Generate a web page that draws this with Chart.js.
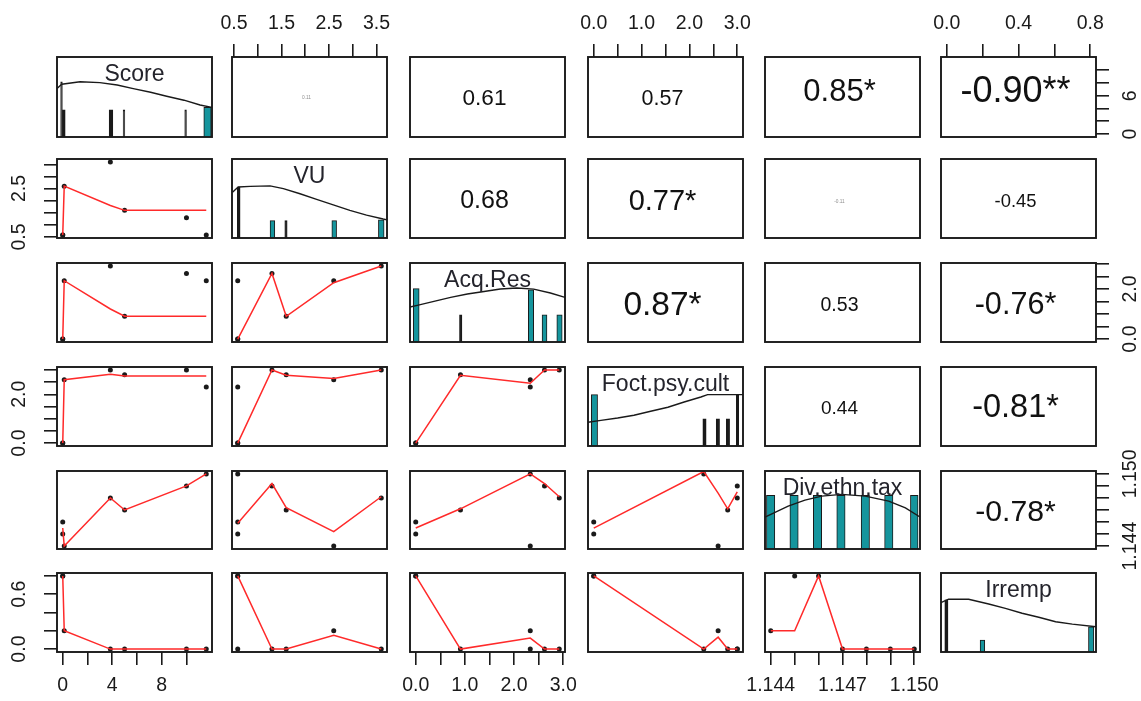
<!DOCTYPE html>
<html>
<head>
<meta charset="utf-8">
<script src="https://cdn.jsdelivr.net/npm/chart.js@4.4.1/dist/chart.umd.min.js"></script>
<style>
  html, body { margin: 0; padding: 0; background: #fff; }
  #board { position: relative; width: 1141px; height: 701px; overflow: hidden; background: #fff; }
  #board canvas { position: absolute; }
</style>
</head>
<body>
<div id="board"></div>
<script>
// ---------- observations (one entry per case, same order in every array) ----------
const varNames    = ['Score', 'VU', 'Acq.Res', 'Foct.psy.cult', 'Div.ethn.tax', 'Irremp'];
const score       = [0, 0, 0.12, 3.85, 5, 10, 11.6];
const vu          = [0.58, 0.58, 2.6, 3.6, 1.6, 1.3, 0.58];
const acqRes      = [0, 0, 2.33, 2.92, 0.91, 2.62, 2.33];
const foctPsyCult = [0, 0, 2.6, 3.0, 2.8, 3.0, 2.3];
const divEthnTax  = [1.146, 1.145, 1.144, 1.148, 1.147, 1.149, 1.150];
const irremp      = [0.8, 0.8, 0.2, 0, 0, 0, 0];

// ---------- smoother fitted values (y on x), per case ----------
const fitVuOnScore      = [0.58, 0.58, 2.6, 1.8, 1.6, 1.6, 1.6];
const fitAcqOnScore     = [0, 0, 2.33, 1.2, 0.91, 0.91, 0.91];
const fitFoctOnScore    = [0, 0, 2.6, 2.82, 2.75, 2.75, 2.75];
const fitDivOnScore     = [1.1455, 1.1455, 1.144, 1.148, 1.147, 1.149, 1.150];
const fitIrrOnScore     = [0.8, 0.8, 0.2, 0, 0, 0, 0];
const fitAcqOnVu        = [0, 0, 2.25, 2.92, 0.91, 2.62, 0];
const fitFoctOnVu       = [0, 0, 2.65, 3.0, 2.78, 3.0, 0];
const fitDivOnVu        = [1.1459, 1.1459, 1.1452, 1.1481, 1.1472, 1.1492, 1.1459];
const fitIrrOnVu        = [0.8, 0.8, 0.15, 0, 0, 0, 0.8];
const fitFoctOnAcq      = [0, 0, 2.45, 3.0, 2.78, 3.0, 2.45];
const fitDivOnAcq       = [1.1455, 1.1455, 1.150, 1.1481, 1.1471, 1.1492, 1.150];
const fitIrrOnAcq       = [0.8, 0.8, 0.12, 0, 0, 0, 0.12];
const fitDivOnFoct      = [1.1455, 1.1455, 1.1484, 1.1485, 1.1471, 1.1485, 1.1502];
const fitIrrOnFoct      = [0.8, 0.8, 0.13, 0, 0, 0, 0];
const fitIrrOnDiv       = [0.8, 0.2, 0.2, 0, 0, 0, 0];

// ---------- histogram bins (lower edge, upper edge, height as share of panel) ----------
const scoreBinLo = [-0.17, -0.03, 3.75, 4.88, 9.86, 11.4];
const scoreBinHi = [-0.03, 0.2, 4.05, 5.02, 10.0, 12.0];
const scoreBinH  = [0.69, 0.34, 0.34, 0.34, 0.34, 0.37];
const vuBinLo = [0.57, 1.26, 1.57, 2.56, 3.54];
const vuBinHi = [0.63, 1.36, 1.62, 2.66, 3.66];
const vuBinH  = [0.645, 0.22, 0.22, 0.22, 0.23];
const acqBinLo = [-0.05, 0.89, 2.29, 2.57, 2.87];
const acqBinHi = [0.07, 0.94, 2.40, 2.67, 2.98];
const acqBinH  = [0.675, 0.345, 0.66, 0.345, 0.345];
const foctBinLo = [-0.05, 2.28, 2.56, 2.77, 2.98];
const foctBinHi = [0.08, 2.35, 2.63, 2.84, 3.03];
const foctBinH  = [0.65, 0.345, 0.345, 0.345, 0.64];
const divBinLo = [1.14382, 1.1448, 1.14578, 1.14676, 1.14778, 1.14876, 1.14984];
const divBinHi = [1.14417, 1.14515, 1.14613, 1.14711, 1.14813, 1.14911, 1.15016];
const divBinH  = [0.687, 0.687, 0.687, 0.687, 0.687, 0.687, 0.687];
const irrBinLo = [-0.011, 0.186, 0.79];
const irrBinHi = [0.007, 0.212, 0.82];
const irrBinH  = [0.66, 0.15, 0.32];

// ---------- density curves (x, height as share of panel) ----------
const scoreDensX = [-0.46, -0.08, 1.4, 3.0, 4.4, 5.7, 7.1, 8.4, 9.8, 11.1, 12.06];
const scoreDensY = [0.605, 0.66, 0.69, 0.68, 0.65, 0.605, 0.56, 0.51, 0.46, 0.40, 0.37];
const vuDensX = [0.47, 0.59, 0.84, 1.26, 1.54, 1.89, 2.24, 2.59, 2.94, 3.29, 3.64, 3.72];
const vuDensY = [0.58, 0.645, 0.654, 0.66, 0.625, 0.56, 0.49, 0.42, 0.35, 0.29, 0.24, 0.23];
const acqDensX = [-0.117, 0.03, 0.37, 0.71, 1.05, 1.39, 1.72, 2.06, 2.4, 2.74, 3.037];
const acqDensY = [0.443, 0.463, 0.514, 0.565, 0.608, 0.64, 0.67, 0.684, 0.67, 0.62, 0.565];
const foctDensX = [-0.12, 0.15, 0.5, 0.84, 1.19, 1.55, 1.89, 2.24, 2.38, 2.94, 3.12];
const foctDensY = [0.30, 0.325, 0.354, 0.39, 0.44, 0.49, 0.557, 0.62, 0.65, 0.65, 0.65];
const divDensX = [1.14376, 1.14473, 1.14543, 1.14613, 1.14697, 1.14795, 1.14893, 1.14963, 1.15024];
const divDensY = [0.41, 0.55, 0.626, 0.678, 0.70, 0.678, 0.613, 0.528, 0.41];
const irrDensX = [-0.032, 0.01, 0.122, 0.234, 0.327, 0.42, 0.513, 0.607, 0.7, 0.832];
const irrDensY = [0.625, 0.668, 0.668, 0.608, 0.553, 0.49, 0.44, 0.383, 0.353, 0.32];

// ---------- correlations shown in the upper panels ----------
const corrPairs = [[0,1],[0,2],[0,3],[0,4],[0,5],[1,2],[1,3],[1,4],[1,5],[2,3],[2,4],[2,5],[3,4],[3,5],[4,5]];
const corrR     = [0.11, 0.61, 0.57, 0.85, -0.90, 0.68, 0.77, -0.11, -0.45, 0.87, 0.53, -0.76, 0.44, -0.81, -0.78];
const corrStars = ['', '', '', '*', '**', '', '*', '', '', '*', '', '*', '', '*', '*'];

// ---------- axis ticks and labels ----------
const scoreTicks = [0, 2, 4, 6, 8, 10];
const scoreLabelsX = ['0', '', '4', '', '8', ''];
const scoreLabelsY = ['0', '', '', '6', '', ''];
const vuTicks = [0.5, 1, 1.5, 2, 2.5, 3, 3.5];
const vuLabelsX = ['0.5', '', '1.5', '', '2.5', '', '3.5'];
const vuLabelsY = ['0.5', '', '', '', '2.5', '', ''];
const acqTicks = [0, 0.5, 1, 1.5, 2, 2.5, 3];
const acqLabelsX = ['0.0', '', '1.0', '', '2.0', '', '3.0'];
const acqLabelsY = ['0.0', '', '', '', '2.0', '', ''];
const foctTicks = [0, 0.5, 1, 1.5, 2, 2.5, 3];
const foctLabelsX = ['0.0', '', '1.0', '', '2.0', '', '3.0'];
const foctLabelsY = ['0.0', '', '', '', '2.0', '', ''];
const divTicks = [1.144, 1.145, 1.146, 1.147, 1.148, 1.149, 1.150];
const divLabelsX = ['1.144', '', '', '1.147', '', '', '1.150'];
const divLabelsY = ['1.144', '', '', '', '', '', '1.150'];
const irrTicks = [0, 0.2, 0.4, 0.6, 0.8];
const irrLabelsX = ['0.0', '', '0.4', '', '0.8'];
const irrLabelsY = ['0.0', '', '', '0.6', ''];

// ---------- assembly ----------
const vars = [score, vu, acqRes, foctPsyCult, divEthnTax, irremp];
const tickSets = [scoreTicks, vuTicks, acqTicks, foctTicks, divTicks, irrTicks];
const labelsX = [scoreLabelsX, vuLabelsX, acqLabelsX, foctLabelsX, divLabelsX, irrLabelsX];
const labelsY = [scoreLabelsY, vuLabelsY, acqLabelsY, foctLabelsY, divLabelsY, irrLabelsY];
const bins = [
  [scoreBinLo, scoreBinHi, scoreBinH], [vuBinLo, vuBinHi, vuBinH], [acqBinLo, acqBinHi, acqBinH],
  [foctBinLo, foctBinHi, foctBinH], [divBinLo, divBinHi, divBinH], [irrBinLo, irrBinHi, irrBinH]
];
const densities = [
  [scoreDensX, scoreDensY], [vuDensX, vuDensY], [acqDensX, acqDensY],
  [foctDensX, foctDensY], [divDensX, divDensY], [irrDensX, irrDensY]
];
const fits = {
  '1,0': fitVuOnScore, '2,0': fitAcqOnScore, '3,0': fitFoctOnScore, '4,0': fitDivOnScore, '5,0': fitIrrOnScore,
  '2,1': fitAcqOnVu, '3,1': fitFoctOnVu, '4,1': fitDivOnVu, '5,1': fitIrrOnVu,
  '3,2': fitFoctOnAcq, '4,2': fitDivOnAcq, '5,2': fitIrrOnAcq,
  '4,3': fitDivOnFoct, '5,3': fitIrrOnFoct, '5,4': fitIrrOnDiv
};

// ---------- layout and style ----------
const PAGE_W = 1141, PAGE_H = 701;
const panelLeft = [57, 232, 410, 588, 765, 941];
const panelTop = [57, 159, 263, 367, 471, 573];
const panelW = 155;
const panelH = [80, 79, 79, 79, 78, 79];
const GAP = 30;
const TICK = 13;
const INK = '#1a1a1a';
const TEAL = '#15959d';
const RED = '#ff2a2a';
const FONT = '"Liberation Sans", Arial, Helvetica, sans-serif';
const TICK_FONT = 19.5;
const TITLE_FONT = 23;
const THIN_BAR_PX = 4;
const corrFontPx = [4.8, 22.6, 21.5, 31, 36, 25, 29, 4.8, 18.4, 33.5, 19.5, 30.6, 19, 32.5, 30.2];
const corrShiftY = [1, 2, 2, -5, -5, 3, 3, 3, 3, 3, 3, 3, 2, 2, 3];
const LEFT_LABEL_X = 20, RIGHT_LABEL_X = 1131;

const measureCtx = document.createElement('canvas').getContext('2d');
function textWidth(t, size) { measureCtx.font = size + 'px ' + FONT; return measureCtx.measureText(t).width; }
function paddedRange(v) {
  const lo = Math.min(...v), hi = Math.max(...v), d = hi - lo;
  return [lo - 0.04 * d, hi + 0.04 * d];
}

const frame = {
  id: 'frame',
  afterDatasetsDraw(chart) {
    const { ctx, chartArea: a } = chart;
    ctx.save();
    ctx.strokeStyle = INK;
    ctx.lineWidth = 1.9;
    ctx.strokeRect(a.left, a.top, a.right - a.left, a.bottom - a.top);
    ctx.restore();
  }
};

const panelText = {
  id: 'panelText',
  afterDraw(chart, args, opts) {
    if (!opts || !opts.text) return;
    const { ctx, chartArea: a } = chart;
    ctx.save();
    ctx.font = opts.size + 'px ' + FONT;
    ctx.fillStyle = opts.color;
    ctx.textAlign = 'center';
    const cx = (a.left + a.right) / 2;
    if (opts.kind === 'title') {
      ctx.textBaseline = 'alphabetic';
      ctx.fillText(opts.text, cx, a.top + 24);
    } else {
      ctx.textBaseline = 'middle';
      ctx.fillText(opts.text, cx - 3, (a.top + a.bottom) / 2 + opts.dy);
    }
    ctx.restore();
  }
};

function gridStyle() {
  return { drawOnChartArea: false, drawTicks: true, tickLength: TICK, color: INK, lineWidth: 1.6, offset: false };
}

function xScale(c, hasTop, hasBottom, mT, mB) {
  const [min, max] = paddedRange(vars[c]);
  const shown = hasTop || hasBottom;
  const s = {
    type: 'linear', min, max, offset: false, display: shown, position: hasTop ? 'top' : 'bottom',
    afterBuildTicks: axis => { axis.ticks = tickSets[c].map(value => ({ value })); },
    grid: gridStyle(),
    border: { display: false },
    ticks: {
      autoSkip: false, minRotation: 0, maxRotation: 0, padding: hasTop ? 9 : 8.6,
      color: INK, font: { family: FONT, size: TICK_FONT },
      callback: (v, i) => labelsX[c][i]
    }
  };
  if (shown) s.afterFit = axis => { axis.height = hasTop ? mT : mB; };
  return s;
}

function yScale(r, hasLeft, hasRight, mL, mR, diag) {
  if (diag) return { type: 'linear', min: 0, max: 1, display: false, stacked: false };
  const [min, max] = paddedRange(vars[r]);
  const shown = hasLeft || hasRight;
  const widest = Math.max(...labelsY[r].map(t => textWidth(t, TICK_FONT)));
  const room = hasLeft ? panelLeft[0] - LEFT_LABEL_X : RIGHT_LABEL_X - (panelLeft[5] + panelW);
  const s = {
    type: 'linear', min, max, display: shown, position: hasLeft ? 'left' : 'right',
    afterBuildTicks: axis => { axis.ticks = tickSets[r].map(value => ({ value })); },
    grid: gridStyle(),
    border: { display: false },
    ticks: {
      autoSkip: false, minRotation: 90, maxRotation: 90, crossAlign: 'center',
      padding: room - TICK - widest / 2,
      color: INK, font: { family: FONT, size: TICK_FONT },
      callback: (v, i) => labelsY[r][i]
    }
  };
  if (shown) s.afterFit = axis => { axis.width = hasLeft ? mL : mR; };
  return s;
}

// pixel width of a bin on the chart's own x scale
function binPixels(chart, lo, hi) {
  const s = chart.scales.x;
  const w = Math.abs(s.getPixelForValue(hi) - s.getPixelForValue(lo));
  return Number.isFinite(w) && w > 0 ? w : 2;
}

function diagDatasets(k) {
  const [lo, hi, h] = bins[k];
  const [dx, dy] = densities[k];
  const sets = [{
    type: 'line',
    data: dx.map((x, i) => ({ x, y: dy[i] })),
    borderColor: INK, borderWidth: 1.4, pointRadius: 0, tension: 0, fill: false
  }];
  lo.forEach((l, i) => {
    const u = hi[i];
    sets.push({
      type: 'bar',
      data: [{ x: (l + u) / 2, y: h[i] }],
      // very narrow bins read as solid dark strokes
      backgroundColor: ctx => binPixels(ctx.chart, l, u) < THIN_BAR_PX ? INK : TEAL,
      borderColor: INK, borderWidth: 1,
      grouped: true, stack: 'bins',
      barThickness: ctx => binPixels(ctx.chart, l, u)
    });
  });
  return sets;
}

function scatterDatasets(r, c) {
  const xs = vars[c], ys = vars[r], fit = fits[r + ',' + c];
  const order = xs.map((x, i) => i).sort((a, b) => xs[a] - xs[b]);
  return [
    {
      type: 'line',
      data: order.map(i => ({ x: xs[i], y: fit[i] })),
      borderColor: RED, borderWidth: 1.5, pointRadius: 0, tension: 0, fill: false
    },
    {
      type: 'scatter',
      data: xs.map((x, i) => ({ x, y: ys[i] })),
      pointRadius: 2.5, pointBackgroundColor: INK, pointBorderWidth: 0, backgroundColor: INK
    }
  ];
}

const board = document.getElementById('board');

function buildPanel(r, c) {
  const L = panelLeft[c], T = panelTop[r], w = panelW, h = panelH[r];
  const mL = c === 0 ? L : GAP;
  const mR = c === 5 ? PAGE_W - (L + w) : GAP;
  const mT = r === 0 ? T : GAP;
  const mB = r === 5 ? PAGE_H - (T + h) : GAP;
  const hasTop = r === 0 && c % 2 === 1;
  const hasBottom = r === 5 && c % 2 === 0;
  const hasLeft = c === 0 && r % 2 === 1;
  const hasRight = c === 5 && r % 2 === 0;
  const diag = r === c;

  const cv = document.createElement('canvas');
  cv.width = w + mL + mR;
  cv.height = h + mT + mB;
  cv.style.left = (L - mL) + 'px';
  cv.style.top = (T - mT) + 'px';
  cv.style.width = cv.width + 'px';
  cv.style.height = cv.height + 'px';
  board.appendChild(cv);

  let datasets = [];
  let text = null;
  if (diag) {
    datasets = diagDatasets(r);
    text = { kind: 'title', text: varNames[r], size: TITLE_FONT, color: '#24242c' };
  } else if (r > c) {
    datasets = scatterDatasets(r, c);
  } else {
    const k = corrPairs.findIndex(p => p[0] === r && p[1] === c);
    const v = corrR[k];
    const label = (v < 0 ? '-' : '') + Math.abs(v).toFixed(2) + corrStars[k];
    text = {
      kind: 'corr', text: label, size: corrFontPx[k], dy: corrShiftY[k],
      color: Math.abs(v) < 0.2 ? '#8f8f8f' : '#111'
    };
  }

  const xs = xScale(c, hasTop, hasBottom, mT, mB);
  if (diag) xs.stacked = true;

  new Chart(cv, {
    type: 'scatter',
    data: { datasets },
    options: {
      responsive: false,
      devicePixelRatio: 1,
      animation: false,
      events: [],
      clip: false,
      layout: {
        padding: {
          left: hasLeft ? 0 : mL, right: hasRight ? 0 : mR,
          top: hasTop ? 0 : mT, bottom: hasBottom ? 0 : mB
        }
      },
      scales: { x: xs, y: yScale(r, hasLeft, hasRight, mL, mR, diag) },
      plugins: {
        legend: { display: false },
        tooltip: { enabled: false },
        panelText: text || {}
      }
    },
    plugins: [frame, panelText]
  });
}

for (let r = 0; r < 6; r++) {
  for (let c = 0; c < 6; c++) buildPanel(r, c);
}
</script>
</body>
</html>
